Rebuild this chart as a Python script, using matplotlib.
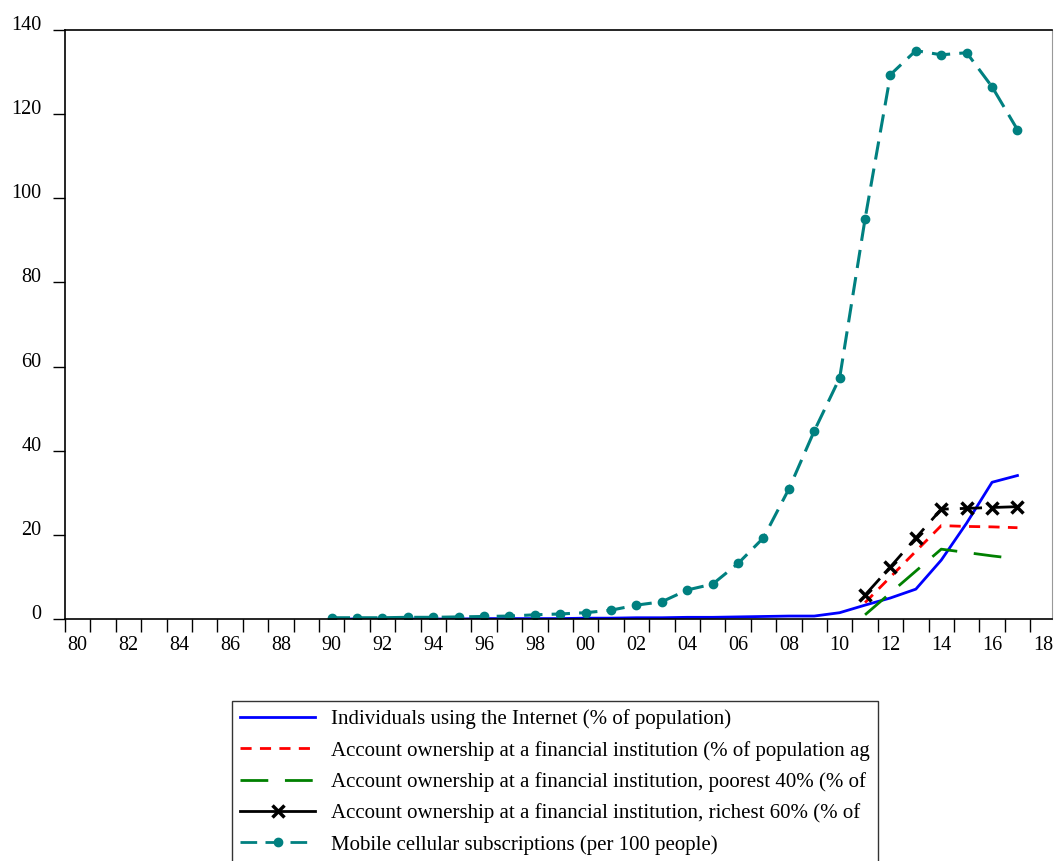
import matplotlib
matplotlib.use("Agg")
import matplotlib.pyplot as plt
from matplotlib.lines import Line2D
import numpy as np

plt.rcParams['font.family'] = ['Liberation Serif', 'DejaVu Serif']

# series values
years_internet = list(range(1990, 2018))
internet = [0.0, 0.0, 0.0, 0.0, 0.0, 0.0, 0.1, 0.1, 0.1, 0.1,
            0.2, 0.2, 0.3, 0.3, 0.4, 0.4, 0.5, 0.6, 0.7, 0.7,
            1.5, 3.3, 5.0, 7.1, 14.0, 22.8, 32.5, 34.1]

years_fin = list(range(2011, 2018))
account_all = [3.9, 10.0, 16.1, 22.2, 22.0, 21.9, 21.7]
account_poor = [1.0, 6.2, 11.4, 16.6, 15.8, 15.0, 14.3]
account_rich = [5.7, 12.4, 19.3, 26.1, 26.3, 26.5, 26.7]

years_mobile = list(range(1990, 2018))
mobile = [0.3, 0.3, 0.3, 0.4, 0.4, 0.5, 0.6, 0.7, 1.0, 1.2,
          1.5, 2.1, 3.3, 4.1, 6.9, 8.3, 13.2, 19.3, 30.9, 44.7,
          57.3, 95.1, 129.4, 135.1, 134.1, 134.6, 126.5, 116.3]

labels = [
    "Individuals using the Internet (% of population)",
    "Account ownership at a financial institution (% of population ag",
    "Account ownership at a financial institution, poorest 40% (% of",
    "Account ownership at a financial institution, richest 60% (% of",
    "Mobile cellular subscriptions (per 100 people)",
]

fig = plt.figure(figsize=(10.54, 8.61), dpi=100)
ax = fig.add_axes([65 / 1054, 1 - 619 / 861, (1052 - 65) / 1054, (619 - 30) / 861])

# each year is drawn at the middle of its period
xi = np.array(years_internet) + 0.5
xf = np.array(years_fin) + 0.5
xm = np.array(years_mobile) + 0.5

ax.plot(xi, internet, color='#0000ff', lw=2, label=labels[0])
ax.plot(xf, account_all, color='#ff0000', lw=2, dashes=(4, 3), label=labels[1])
ax.plot(xf, account_poor, color='#008000', lw=2, dashes=(10, 6), label=labels[2])
ax.plot(xf, account_rich, color='black', lw=2, dashes=(8, 4), marker='x',
        ms=8, mew=2.5, label=labels[3])
ax.plot(xm, mobile, color='#008080', lw=2.2, dashes=(6, 3), marker='o',
        ms=6, label=labels[4])

ax.set_xlim(1980, 2018.86)
ax.set_ylim(0, 140)

ax.set_xticks(np.arange(1980, 2019))
ax.set_xticklabels([])
even = np.arange(1980, 2019, 2)
ax.set_xticks(even + 0.5, minor=True)
ax.set_xticklabels(["%02d" % (y % 100) for y in even], minor=True, fontsize=14.5)
ax.tick_params(axis='x', which='major', direction='out', length=9, width=1)
ax.tick_params(axis='x', which='minor', length=0, pad=12)

yt = np.arange(0, 141, 20)
ax.set_yticks(yt, [str(v) for v in yt], va='baseline', fontsize=14.5)
ax.tick_params(axis='y', direction='out', length=9, width=1, pad=8)

for s in ['left', 'bottom', 'top']:
    ax.spines[s].set_linewidth(1.2)
ax.spines['right'].set_color('#999999')

handles = [
    Line2D([], [], color='#0000ff', lw=2),
    Line2D([], [], color='#ff0000', lw=2, dashes=(4, 3)),
    Line2D([], [], color='#008000', lw=2, dashes=(10, 6)),
    Line2D([], [], color='black', lw=2, marker='x', ms=8, mew=2.5),
    Line2D([], [], color='#008080', lw=2, dashes=(6, 3), marker='o', ms=6, markevery=[1]),
]
leg = fig.legend(handles, labels, loc='upper left',
                 bbox_to_anchor=(232 / 1054, 1 - 701 / 861),
                 fontsize=15, frameon=True, fancybox=False, edgecolor='black',
                 handlelength=3.6, handletextpad=0.75, labelspacing=0.55,
                 borderaxespad=0, borderpad=0.4)
leg.get_frame().set_linewidth(1.0)

fig.savefig("out.png", dpi=100)
